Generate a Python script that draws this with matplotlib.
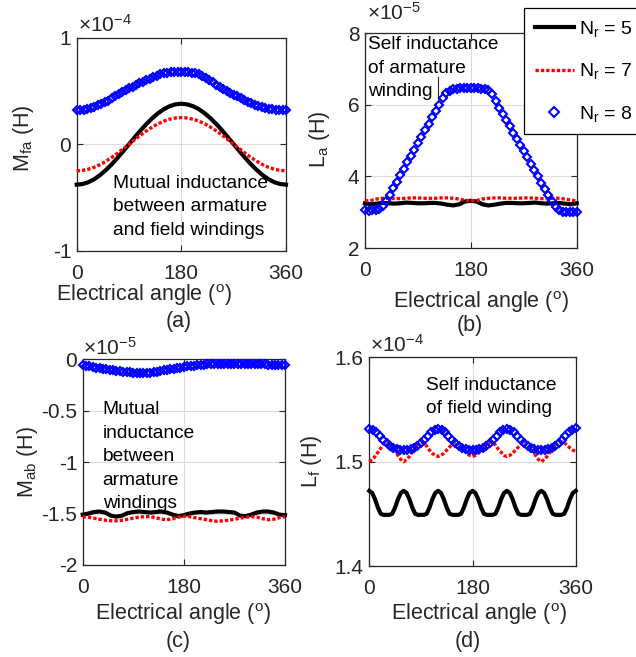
import numpy as np
import matplotlib
matplotlib.use('Agg')
import matplotlib.pyplot as plt
from matplotlib.lines import Line2D

plt.rcParams['font.family'] = ['Liberation Sans', 'DejaVu Sans']
plt.rcParams['mathtext.fontset'] = 'custom'
plt.rcParams['mathtext.rm'] = 'Liberation Sans'
plt.rcParams['mathtext.it'] = 'Liberation Sans:italic'
plt.rcParams['mathtext.bf'] = 'Liberation Sans:bold'
plt.rcParams['axes.unicode_minus'] = False

# figure size in pixels
W, H = 636, 657
GREY = '#262626'

# angle grids (electrical degrees)
ang10 = np.arange(0, 361, 10)
ang6 = np.arange(0, 361, 6)
ang5 = np.arange(0, 361, 5)

labels = ['N$_{\\rm r}$ = 5', 'N$_{\\rm r}$ = 7', 'N$_{\\rm r}$ = 8']

# (a) mutual inductance field/armature, x1e-4 H
mfa_n5 = [-0.380, -0.374, -0.357, -0.329, -0.291, -0.244, -0.190, -0.130, -0.066, 0.000,
          0.066, 0.130, 0.190, 0.244, 0.291, 0.329, 0.357, 0.374, 0.380,
          0.374, 0.357, 0.329, 0.291, 0.244, 0.190, 0.130, 0.066, 0.000,
          -0.066, -0.130, -0.190, -0.244, -0.291, -0.329, -0.357, -0.374, -0.380]
mfa_n7 = [-0.250, -0.246, -0.235, -0.217, -0.192, -0.161, -0.125, -0.086, -0.043, 0.000,
          0.043, 0.086, 0.125, 0.161, 0.192, 0.217, 0.235, 0.246, 0.250,
          0.246, 0.235, 0.217, 0.192, 0.161, 0.125, 0.086, 0.043, 0.000,
          -0.043, -0.086, -0.125, -0.161, -0.192, -0.217, -0.235, -0.246, -0.250]
mfa_n8 = [0.320, 0.320, 0.325, 0.330, 0.340, 0.350, 0.365, 0.380, 0.395, 0.410,
          0.430, 0.450, 0.470, 0.490, 0.510, 0.525, 0.540, 0.555, 0.570, 0.585,
          0.600, 0.615, 0.630, 0.645, 0.655, 0.665, 0.670, 0.675, 0.675, 0.680,
          0.680, 0.680, 0.675, 0.670, 0.665, 0.655, 0.640, 0.620, 0.600, 0.580,
          0.560, 0.540, 0.520, 0.500, 0.480, 0.465, 0.450, 0.435, 0.415, 0.400,
          0.385, 0.370, 0.360, 0.350, 0.340, 0.335, 0.330, 0.325, 0.320, 0.320,
          0.320]

# (b) self inductance armature, x1e-5 H
la_n5 = [3.25, 3.22, 3.24, 3.26, 3.25, 3.24, 3.25, 3.27, 3.26, 3.25,
         3.25, 3.26, 3.26, 3.24, 3.21, 3.19, 3.22, 3.30, 3.32, 3.30,
         3.22, 3.19, 3.21, 3.24, 3.26, 3.26, 3.25, 3.25, 3.26, 3.27,
         3.25, 3.24, 3.25, 3.26, 3.24, 3.22, 3.25]
la_n7 = [3.32, 3.33, 3.37, 3.39, 3.39, 3.38, 3.38, 3.39, 3.40, 3.40,
         3.39, 3.39, 3.39, 3.40, 3.40, 3.39, 3.37, 3.33, 3.32, 3.33,
         3.37, 3.39, 3.40, 3.40, 3.39, 3.39, 3.39, 3.40, 3.40, 3.39,
         3.38, 3.38, 3.39, 3.39, 3.37, 3.34, 3.32]
la_n8 = [3.05, 3.03, 3.05, 3.06, 3.10, 3.17, 3.31, 3.49, 3.67, 3.85,
         4.03, 4.21, 4.39, 4.57, 4.75, 4.93, 5.11, 5.29, 5.47, 5.65,
         5.83, 6.01, 6.18, 6.32, 6.40, 6.44, 6.45, 6.46, 6.46, 6.46,
         6.46, 6.46, 6.46, 6.45, 6.45, 6.41, 6.30, 6.10, 5.92, 5.75,
         5.57, 5.40, 5.22, 5.05, 4.88, 4.70, 4.53, 4.35, 4.18, 4.00,
         3.83, 3.65, 3.48, 3.30, 3.15, 3.05, 3.00, 3.00, 3.02, 3.02,
         3.02]

# (c) mutual inductance between armature windings, x1e-5 H
mab_n5 = [-1.510, -1.500, -1.485, -1.480, -1.490, -1.520, -1.530, -1.520, -1.495, -1.485,
          -1.480, -1.485, -1.490, -1.485, -1.480, -1.490, -1.510, -1.525, -1.515, -1.500,
          -1.490, -1.485, -1.490, -1.485, -1.480, -1.480, -1.485, -1.490, -1.520, -1.525,
          -1.510, -1.490, -1.480, -1.480, -1.490, -1.510, -1.515]
mab_n7 = [-1.530, -1.535, -1.545, -1.555, -1.565, -1.570, -1.570, -1.565, -1.555, -1.545,
          -1.535, -1.530, -1.530, -1.540, -1.555, -1.560, -1.550, -1.535, -1.525, -1.530,
          -1.540, -1.550, -1.560, -1.570, -1.575, -1.570, -1.565, -1.555, -1.545, -1.535,
          -1.530, -1.535, -1.550, -1.560, -1.555, -1.540, -1.530]
mab_n8 = [-0.060, -0.065, -0.070, -0.075, -0.080, -0.085, -0.090, -0.095, -0.100, -0.105,
          -0.110, -0.115, -0.120, -0.123, -0.126, -0.130, -0.132, -0.134, -0.135, -0.135,
          -0.132, -0.128, -0.122, -0.115, -0.108, -0.100, -0.095, -0.090, -0.085, -0.080,
          -0.075, -0.070, -0.066, -0.062, -0.058, -0.055, -0.052, -0.050, -0.048, -0.046,
          -0.045, -0.044, -0.043, -0.042, -0.042, -0.042, -0.042, -0.043, -0.043, -0.044,
          -0.045, -0.046, -0.047, -0.048, -0.050, -0.051, -0.052, -0.054, -0.056, -0.058,
          -0.060]

# (d) self inductance field winding, x1e-4 H
lf_n5 = [1.472, 1.470, 1.464, 1.456, 1.450, 1.449, 1.449, 1.449, 1.450, 1.456, 1.464, 1.470,
         1.472, 1.470, 1.464, 1.456, 1.450, 1.449, 1.449, 1.449, 1.450, 1.456, 1.464, 1.470,
         1.472, 1.470, 1.464, 1.456, 1.450, 1.449, 1.449, 1.449, 1.450, 1.456, 1.464, 1.470,
         1.472, 1.470, 1.464, 1.456, 1.450, 1.449, 1.449, 1.449, 1.450, 1.456, 1.464, 1.470,
         1.472, 1.470, 1.464, 1.456, 1.450, 1.449, 1.449, 1.449, 1.450, 1.456, 1.464, 1.470,
         1.472, 1.470, 1.464, 1.456, 1.450, 1.449, 1.449, 1.449, 1.450, 1.456, 1.464, 1.470,
         1.472]
lf_n7 = [1.500, 1.502, 1.505, 1.509, 1.513, 1.517, 1.519, 1.518, 1.515, 1.511, 1.506, 1.502,
         1.500, 1.502, 1.505, 1.509, 1.513, 1.517, 1.519, 1.518, 1.515, 1.511, 1.508, 1.506,
         1.505, 1.506, 1.508, 1.511, 1.514, 1.517, 1.519, 1.518, 1.515, 1.511, 1.508, 1.506,
         1.505, 1.506, 1.508, 1.511, 1.514, 1.517, 1.519, 1.518, 1.516, 1.512, 1.509, 1.506,
         1.505, 1.506, 1.508, 1.511, 1.514, 1.517, 1.519, 1.518, 1.515, 1.511, 1.506, 1.502,
         1.500, 1.502, 1.505, 1.509, 1.513, 1.517, 1.519, 1.519, 1.518, 1.516, 1.513, 1.511,
         1.510]
lf_n8 = [1.531, 1.530, 1.528, 1.525, 1.521, 1.518, 1.515, 1.513, 1.512, 1.511,
         1.511, 1.511, 1.512, 1.513, 1.515, 1.518, 1.521, 1.525, 1.528, 1.530,
         1.531, 1.530, 1.528, 1.525, 1.521, 1.518, 1.515, 1.513, 1.512, 1.511,
         1.511, 1.511, 1.512, 1.513, 1.515, 1.518, 1.521, 1.525, 1.528, 1.530,
         1.531, 1.530, 1.528, 1.525, 1.521, 1.518, 1.515, 1.513, 1.512, 1.511,
         1.511, 1.511, 1.512, 1.513, 1.515, 1.518, 1.521, 1.525, 1.528, 1.530,
         1.532]

TICK_FS = 15
LABEL_FS = 15.5
NOTE_FS = 13.8
RED_DOTS = (0, (1, 0.6))


def fx(x):
    return x / W


def fy(y):
    return 1 - y / H


fig = plt.figure(figsize=(W / 100, H / 100), dpi=100)


def make_axes(left, top, right, bottom):
    return fig.add_axes([fx(left), fy(bottom), (right - left) / W, (bottom - top) / H])


def style(ax, ylim, yticks, yticklabels):
    ax.set_xlim(0, 360)
    ax.set_ylim(*ylim)
    ax.set_xticks([0, 180, 360])
    ax.set_yticks(yticks)
    ax.set_yticklabels(yticklabels)
    ax.tick_params(direction='in', length=4, width=0.8, top=True, right=True,
                   labelsize=TICK_FS, colors=GREY)
    ax.tick_params(axis='x', pad=9.5)
    ax.tick_params(axis='y', pad=4)
    ax.grid(True, color='#dcdcdc', linewidth=0.8)
    ax.set_axisbelow(True)
    for s in ax.spines.values():
        s.set_color(GREY)
        s.set_linewidth(0.9)


def draw(ax, xb, yb, xr, yr, xd, yd):
    ax.plot(xb, yb, color='k', lw=3, clip_on=False, zorder=3)
    ax.plot(xr, yr, color='r', lw=2.4, ls=RED_DOTS, clip_on=False, zorder=3)
    ax.plot(xd, yd, ls='none', marker='D', ms=3.8, mfc='none', mec='b', mew=1.5,
            clip_on=False, zorder=4)


ax_a = make_axes(76.7, 37.7, 286, 250.7)
ax_b = make_axes(365, 33.3, 576.7, 248)
ax_c = make_axes(82.7, 359.3, 285, 565)
ax_d = make_axes(369.3, 357.3, 575.7, 566)

draw(ax_a, ang10, mfa_n5, ang10, mfa_n7, ang6, mfa_n8)
style(ax_a, (-1, 1), [-1, 0, 1], ['-1', '0', '1'])

draw(ax_b, ang10, la_n5, ang10, la_n7, ang6, la_n8)
style(ax_b, (2, 8), [2, 4, 6, 8], ['2', '4', '6', '8'])

draw(ax_c, ang10, mab_n5, ang10, mab_n7, ang6, mab_n8)
style(ax_c, (-2, 0), [-2, -1.5, -1, -0.5, 0], ['-2', '-1.5', '-1', '-0.5', '0'])

draw(ax_d, ang5, lf_n5, ang5, lf_n7, ang6, lf_n8)
style(ax_d, (1.4, 1.6), [1.4, 1.5, 1.6], ['1.4', '1.5', '1.6'])

# annotations inside the panels
fig.text(fx(112.7), fy(206.7), 'Mutual inductance\nbetween armature\nand field windings',
         ha='left', va='center', fontsize=NOTE_FS, linespacing=1.5, zorder=2)
ax_b.text((368 - 365) / (576.7 - 365), (248 - 68.3) / (248 - 33.3),
          'Self inductance\nof armature\nwinding', transform=ax_b.transAxes,
          ha='left', va='center', fontsize=NOTE_FS, linespacing=1.5, zorder=5)
# thin edge to the right of "winding", as in the original
ax_b.add_line(Line2D([(438.3 - 365) / (576.7 - 365)] * 2,
                     [(248 - 77) / (248 - 33.3), (248 - 102) / (248 - 33.3)],
                     transform=ax_b.transAxes, color=GREY, lw=0.8, zorder=2))
ax_c.text((102.7 - 82.7) / (285 - 82.7), (565 - 456.7) / (565 - 359.3),
          'Mutual\ninductance\nbetween\narmature\nwindings', transform=ax_c.transAxes,
          ha='left', va='center', fontsize=NOTE_FS, linespacing=1.5, zorder=2)
ax_d.text((426 - 369.3) / (575.7 - 369.3), (566 - 397) / (566 - 357.3),
          'Self inductance\nof field winding', transform=ax_d.transAxes,
          ha='left', va='center', fontsize=NOTE_FS, linespacing=1.45, zorder=2)

# axis labels, scale factors and captions
xlab = 'Electrical angle ($^{\\rm o}$)'
for x, y in [(143.7, 295), (481, 302), (183, 614.5), (478.5, 614.5)]:
    fig.text(fx(x), fy(y), xlab, ha='center', va='center', fontsize=LABEL_FS, color=GREY)
for x, y, s in [(23, 138, 'M$_{\\rm fa}$ (H)'), (320, 139, 'L$_{\\rm a}$ (H)'),
                (27, 462, 'M$_{\\rm ab}$ (H)'), (312, 461, 'L$_{\\rm f}$ (H)')]:
    fig.text(fx(x), fy(y), s, ha='center', va='center', rotation=90,
             fontsize=LABEL_FS, color=GREY)
for x, y, s in [(78, 32, '×10$^{-4}$'), (367, 20, '×10$^{-5}$'),
                (83, 355, '×10$^{-5}$'), (370, 352.3, '×10$^{-4}$')]:
    fig.text(fx(x), fy(y), s, ha='left', va='baseline', fontsize=TICK_FS, color=GREY)
for x, y, s in [(179, 322, '(a)'), (470, 326, '(b)'), (178, 641, '(c)'), (468, 641.5, '(d)')]:
    fig.text(fx(x), fy(y), s, ha='center', va='center', fontsize=LABEL_FS, color=GREY)

handles = [Line2D([], [], color='k', lw=3),
           Line2D([], [], color='r', lw=2.4, ls=RED_DOTS),
           Line2D([], [], ls='none', marker='D', ms=4.8, mfc='none', mec='b', mew=1.5)]
leg = fig.legend(handles, labels, loc='upper left', bbox_to_anchor=(fx(524), fy(8.3)),
                 frameon=True, fancybox=False, edgecolor='k', framealpha=1, fontsize=14,
                 handlelength=2.0, handletextpad=0.3, labelspacing=1.15, borderpad=0.55,
                 borderaxespad=0)
leg.get_frame().set_linewidth(0.9)

fig.savefig('out.png', dpi=100)
